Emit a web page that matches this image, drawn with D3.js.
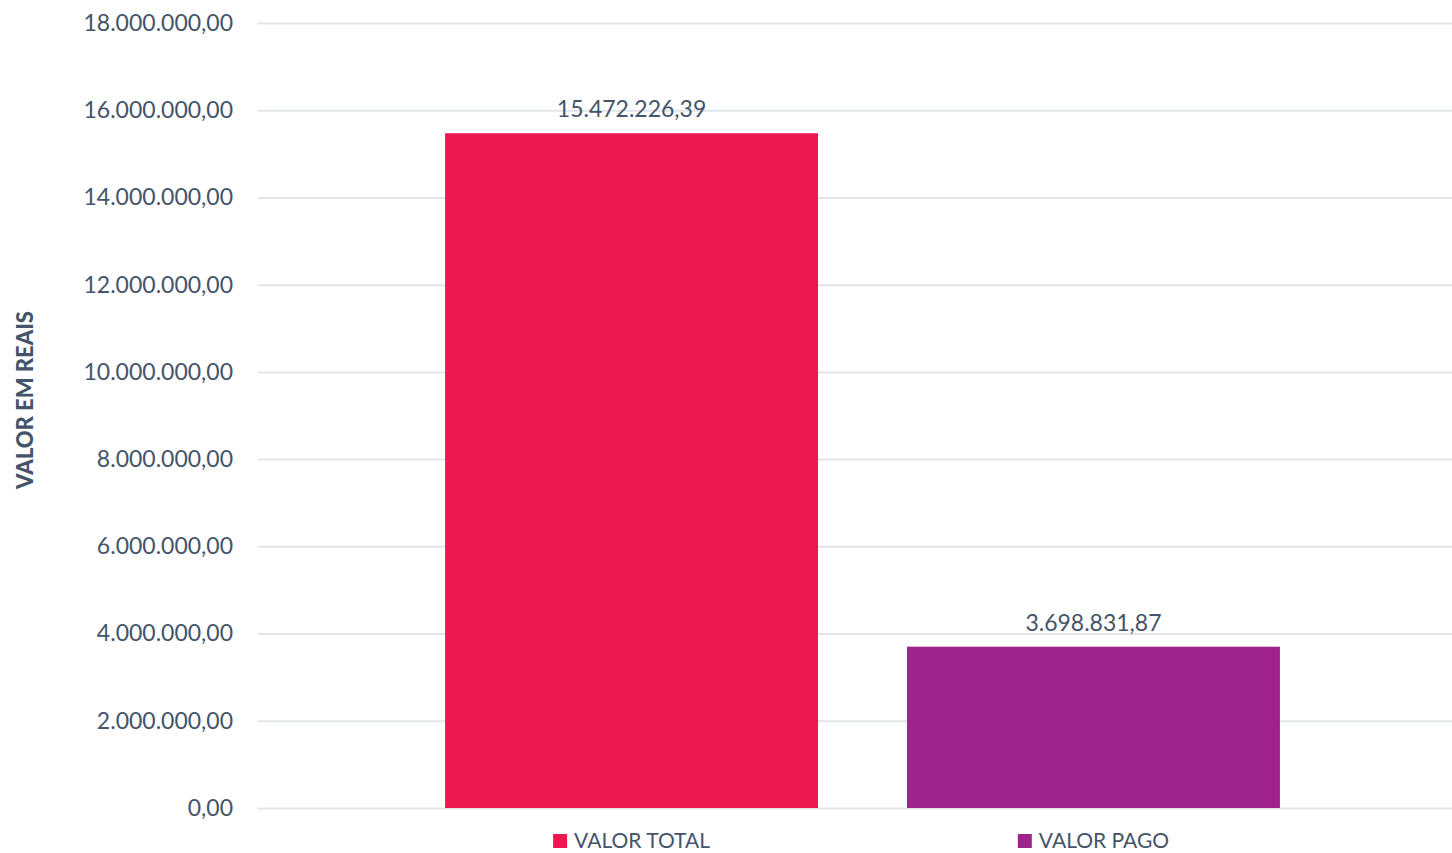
<!DOCTYPE html>
<html>
<head>
<meta charset="utf-8">
<script src="https://cdn.jsdelivr.net/npm/d3@7"></script>
<style>
  html, body { margin: 0; padding: 0; background: #fff; }
  svg { display: block; font-family: Lato, "Open Sans", sans-serif; }
</style>
</head>
<body>
<svg id="chart" width="1452" height="853"></svg>
<script>
// Categories and values (R$)
const categories = ["VALOR TOTAL", "VALOR PAGO"];
const values = [15472226.39, 3698831.87];
const colors = ["#ee1850", "#a0228c"];
const yTicks = [0, 2000000, 4000000, 6000000, 8000000, 10000000, 12000000, 14000000, 16000000, 18000000];
const axisTitle = "VALOR EM REAIS";

const textColor = "#44546a";
const gridColor = "#e1e5ea";

const svg = d3.select("#chart");

const plot = { left: 258, right: 1467, top: 23, bottom: 808 };

const x = d3.scaleBand()
  .domain(categories)
  .range([plot.left, plot.right])
  .paddingInner(0.1926)
  .paddingOuter(0.405);

const y = d3.scaleLinear()
  .domain([0, 18000000])
  .range([plot.bottom, plot.top]);

// pt-BR number format: 15.472.226,39
const fmt = d3.formatLocale({ decimal: ",", thousands: ".", grouping: [3], currency: ["R$", ""] }).format(",.2f");

// Gridlines + tick labels
const yAxis = d3.axisLeft(y)
  .tickValues(yTicks)
  .tickFormat(fmt)
  .tickSize(-(plot.right - plot.left))
  .tickPadding(25);

const gy = svg.append("g")
  .attr("transform", `translate(${plot.left},0)`)
  .call(yAxis);
gy.select(".domain").remove();
gy.selectAll(".tick line")
  .attr("stroke", gridColor)
  .attr("stroke-width", 2);
gy.selectAll(".tick text")
  .attr("fill", textColor)
  .attr("font-size", 23)
  .attr("font-family", "Lato, sans-serif");

// Bars
svg.append("g")
  .selectAll("rect")
  .data(categories)
  .join("rect")
  .attr("x", d => x(d))
  .attr("width", x.bandwidth())
  .attr("y", (d, i) => y(values[i]))
  .attr("height", (d, i) => y(0) - y(values[i]))
  .attr("fill", (d, i) => colors[i]);

// Value labels
svg.append("g")
  .selectAll("text")
  .data(categories)
  .join("text")
  .attr("x", d => x(d) + x.bandwidth() / 2)
  .attr("y", (d, i) => y(values[i]) - 16)
  .attr("text-anchor", "middle")
  .attr("fill", textColor)
  .attr("font-size", 23)
  .text((d, i) => fmt(values[i]));

// Category keys under the bars
const keys = svg.append("g")
  .selectAll("g")
  .data(categories)
  .join("g")
  .attr("transform", d => `translate(${x(d) + x.bandwidth() / 2},841)`);

keys.append("text")
  .attr("x", 0)
  .attr("y", 7)
  .attr("fill", textColor)
  .attr("font-size", 21)
  .text(d => d);

keys.each(function(d, i) {
  const g = d3.select(this);
  const t = g.select("text");
  const w = t.node().getComputedTextLength();
  const sq = 14, gap = 7;
  const total = sq + gap + w;
  const start = -total / 2;
  g.append("rect")
    .attr("x", start)
    .attr("y", -sq / 2)
    .attr("width", sq)
    .attr("height", sq)
    .attr("fill", colors[i]);
  t.attr("x", start + sq + gap);
});

// Axis title
svg.append("text")
  .attr("transform", "translate(33,400) rotate(-90)")
  .attr("text-anchor", "middle")
  .attr("fill", textColor)
  .attr("font-size", 22)
  .attr("font-weight", 900)
  .text(axisTitle);
</script>
</body>
</html>
